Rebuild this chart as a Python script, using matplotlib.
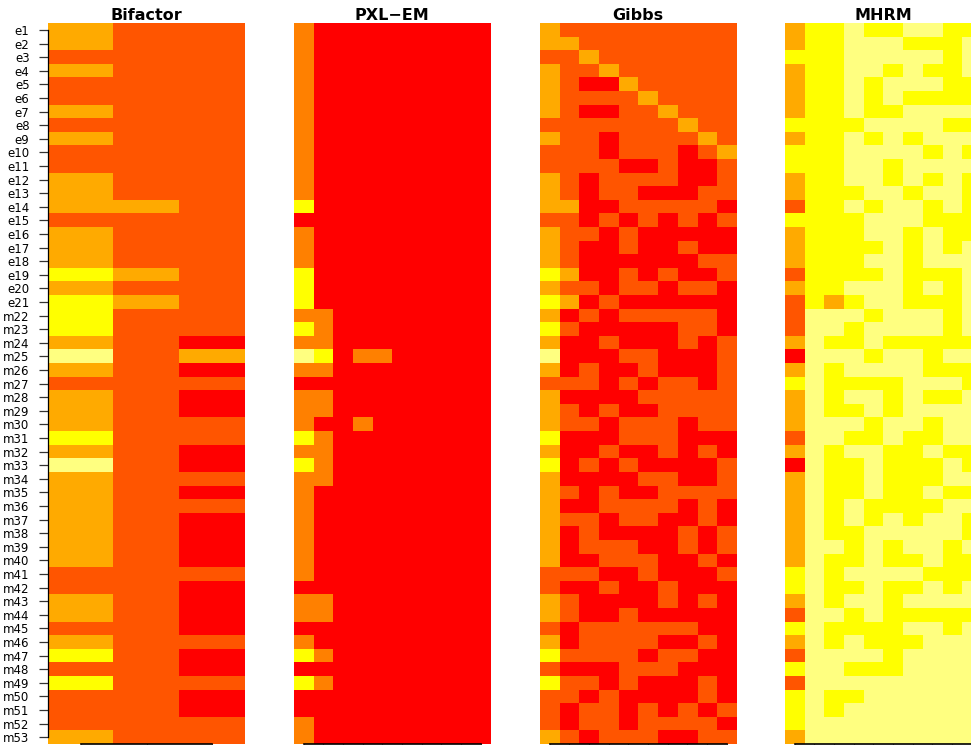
import numpy as np
import matplotlib
matplotlib.use("Agg")
import matplotlib.pyplot as plt
from matplotlib.colors import ListedColormap


# ── data: one digit per cell, index into the panel's heat palette ─────────────

items = [f"e{i}" for i in range(1, 22)] + [f"m{i}" for i in range(22, 54)]

heat5 = ["#FF0000", "#FF5500", "#FFAA00", "#FFFF00", "#FFFF80"]
heat4 = ["#FF0000", "#FF8000", "#FFFF00", "#FFFF80"]

bifactor = [
    "211", "211", "111", "211", "111", "111", "211", "111", "211", "111",
    "111", "211", "211", "221", "111", "211", "211", "211", "321", "211",
    "321", "311", "311", "210", "412", "210", "111", "210", "210", "211",
    "311", "210", "410", "211", "210", "211", "210", "210", "210", "210",
    "111", "110", "210", "210", "110", "211", "310", "110", "311", "110",
    "110", "111", "211",
]

pxl_em = [
    "1000000000", "1000000000", "1000000000", "1000000000", "1000000000",
    "1000000000", "1000000000", "1000000000", "1000000000", "1000000000",
    "1000000000", "1000000000", "1000000000", "2000000000", "0000000000",
    "1000000000", "1000000000", "1000000000", "2000000000", "2000000000",
    "2000000000", "1100000000", "2100000000", "1100000000", "3201100000",
    "1100000000", "0000000000", "1100000000", "1100000000", "1001000000",
    "2100000000", "1100000000", "2100000000", "1100000000", "1000000000",
    "1000000000", "1000000000", "1000000000", "1000000000", "1000000000",
    "1000000000", "0000000000", "1100000000", "1100000000", "0000000000",
    "1000000000", "2100000000", "0000000000", "2100000000", "0000000000",
    "0000000000", "1000000000", "1000000000",
]

gibbs = [
    "2111111111", "2211111111", "1121111111", "2112111111", "2100211111",
    "2111121111", "2100112111", "1111111211", "2110111121", "1110111012",
    "1111001001", "2101111001", "2101100011", "2200111110", "1101010101",
    "2110100000", "2100100100", "2100000011", "3200101001", "2110110110",
    "3201000000", "2010111110", "3100000110", "2001000101", "4000110001",
    "2010010001", "1110101101", "2000011111", "2101001111", "2110111011",
    "3000111000", "2001001010", "3010100001", "2000011001", "2101001111",
    "2001111010", "2110110010", "2010000101", "2011100101", "2001110010",
    "1110010001", "1001001000", "2100001010", "2100100000", "1011111100",
    "2011110010", "3111101100", "1000111000", "3110100010", "1101000010",
    "1011010101", "1011011110", "2101110011",
]

mhrm = [
    "2334334433", "2334443334", "3334444434", "2334434334", "2334344433",
    "2334343333", "2334334444", "3333444433", "2334343444", "3334444343",
    "3334434444", "2334434343", "2333443443", "1334344343", "3333444333",
    "2333443433", "2333343434", "2333443444", "1333343334", "2334443434",
    "1323443334", "1444344434", "1443444434", "2433433333", "0444344344",
    "2434444333", "3433334443", "2434434334", "2433434444", "2444344344",
    "1443343344", "2434433433", "0433433343", "2433433344", "2433433433",
    "2434333344", "2434343443", "2433444443", "2443434434", "2433433433",
    "3434444333", "3433433434", "2434434444", "1443433333", "3433334434",
    "2434333444", "1444434444", "3443334444", "1444444444", "3433444444",
    "3434444444", "3444444444", "2444444444",
]

panels = [
    ("Bifactor", bifactor, heat5),
    ("PXL\u2212EM", pxl_em, heat4),
    ("Gibbs", gibbs, heat5),
    ("MHRM", mhrm, heat5),
]


# ── layout (pixels of the 971x745 canvas) ─────────────────────────────────────

W, H = 971, 745
lefts = [48.3, 294, 540, 785]
panel_w = 196.5
top = 23.3
row_h = 13.6
panel_h = row_h * len(items)

fig = plt.figure(figsize=(W / 100, H / 100), dpi=100)

for i, (name, rows, pal) in enumerate(panels):
    mat = np.array([[int(c) for c in r] for r in rows])
    ncol = mat.shape[1]
    ax = fig.add_axes([lefts[i] / W, (H - top - panel_h) / H, panel_w / W, panel_h / H])
    ax.imshow(mat, cmap=ListedColormap(pal), vmin=-0.5, vmax=len(pal) - 0.5,
              aspect="auto", interpolation="nearest")

    ax.spines["top"].set_visible(False)
    ax.spines["right"].set_visible(False)
    ax.spines["bottom"].set_bounds(0, ncol - 1)
    ax.spines["bottom"].set_linewidth(1.2)
    ax.set_xticks(range(ncol))
    ax.tick_params(axis="x", labelbottom=False, length=4)

    if i == 0:
        ax.spines["left"].set_bounds(0, len(items) - 1)
        ax.spines["left"].set_linewidth(0.9)
        ax.set_yticks(range(len(items)))
        ax.set_yticklabels(items, fontsize=8.5)
        ax.tick_params(axis="y", length=6.5, width=0.9, pad=7, color="#333333")
    else:
        ax.spines["left"].set_visible(False)
        ax.set_yticks([])

    ax.set_title(name, fontsize=11.5, fontweight="bold", pad=2.4)

fig.savefig("out.png", dpi=100)
